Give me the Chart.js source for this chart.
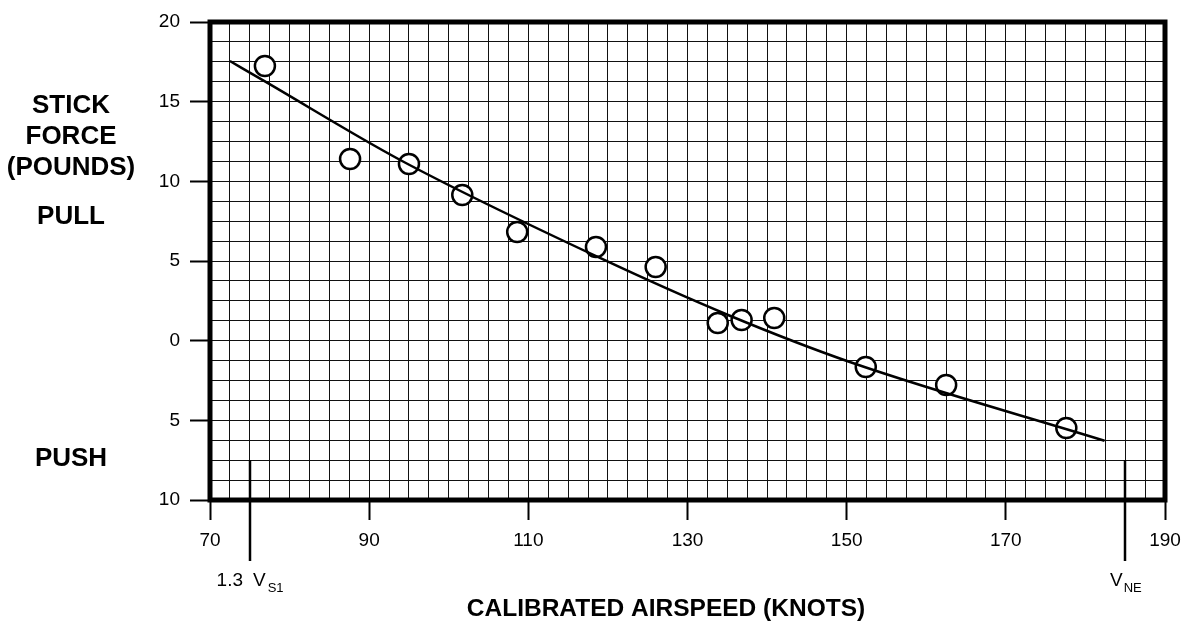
<!DOCTYPE html>
<html><head><meta charset="utf-8">
<script src="https://cdn.jsdelivr.net/npm/chart.js@4.4.1/dist/chart.umd.min.js"></script>
<style>html,body{margin:0;padding:0;background:#fff;overflow:hidden}#wrap{width:1181px;height:622px;position:relative}canvas{display:block}</style>
</head><body><div id="wrap"><canvas id="c" width="1181" height="622" style="width:1181px;height:622px"></canvas></div>
<script>
// Flight test points: calibrated airspeed (knots) vs stick force (pounds, + pull / - push)
const airspeed   = [76.9, 87.6, 95.0, 101.7, 108.6, 118.5, 126.0, 133.8, 136.8, 140.9, 152.4, 162.5, 177.6];
const stickForce = [17.24, 11.40, 11.09, 9.14, 6.82, 5.88, 4.62, 1.11, 1.30, 1.42, -1.65, -2.78, -5.48];
// Faired curve
const fitSpeed = [72.5, 76.9, 93.9, 119.0, 135.1, 150.4, 182.4];
const fitForce = [17.55, 16.27, 11.34, 5.19, 1.61, -1.34, -6.28];
// Reference speeds
const refSpeeds = [75, 185];
const refTop = -7.5;
// Axis ranges / tick labels
const xMin = 70, xMax = 190, xStep = 2.5, xLabelEvery = 20;
const yMin = -10, yMax = 20, yStep = 1.25, yLabelEvery = 5;
const leftLabels = ['STICK', 'FORCE', '(POUNDS)', 'PULL', 'PUSH'];
const xTitle = 'CALIBRATED AIRSPEED (KNOTS)';

const FONT = '"Liberation Sans", Arial, Helvetica, sans-serif';

const toXY = (xs, ys) => xs.map((x, i) => ({x, y: ys[i]}));

const decor = {
  id: 'decor',
  afterDraw(chart) {
    const {ctx, chartArea: a, scales} = chart;
    ctx.save();
    // frame
    ctx.strokeStyle = '#000';
    ctx.lineWidth = 5;
    ctx.strokeRect(a.left, a.top, a.right - a.left, a.bottom - a.top);
    // reference speed lines
    const yTop = scales.y.getPixelForValue(refTop);
    ctx.lineWidth = 2.5;
    const px = refSpeeds.map(v => Math.round(scales.x.getPixelForValue(v)));
    px.forEach(p => {
      ctx.beginPath();
      ctx.moveTo(p, yTop);
      ctx.lineTo(p, a.bottom + 61);
      ctx.stroke();
    });
    ctx.fillStyle = '#000';
    // 1.3 Vs1
    const yMain = a.bottom + 81, ySub = a.bottom + 88;
    ctx.textBaseline = 'middle';
    ctx.font = '19px ' + FONT;
    ctx.textAlign = 'right';
    ctx.fillText('1.3', px[0] - 7, yMain);
    ctx.textAlign = 'left';
    ctx.fillText('V', px[0] + 3, yMain);
    let w = ctx.measureText('V').width;
    ctx.font = '13px ' + FONT;
    ctx.fillText('S1', px[0] + 3 + w + 2, ySub);
    // Vne
    ctx.font = '19px ' + FONT;
    ctx.fillText('V', px[1] - 15, yMain);
    ctx.font = '13px ' + FONT;
    ctx.fillText('NE', px[1] - 15 + w + 1, ySub);
    // left labels
    ctx.font = 'bold 26px ' + FONT;
    ctx.textAlign = 'center';
    const ly = [106, 137, 168, 217, 459];
    leftLabels.forEach((t, i) => ctx.fillText(t, 71, ly[i]));
    // bottom title
    ctx.font = 'bold 24.5px ' + FONT;
    ctx.fillText(xTitle, 666, 609);
    ctx.restore();
  }
};

new Chart(document.getElementById('c'), {
  type: 'scatter',
  data: {
    datasets: [
      {
        type: 'line',
        data: toXY(fitSpeed, fitForce),
        borderColor: '#000',
        borderWidth: 2.5,
        pointRadius: 0,
        fill: false,
        cubicInterpolationMode: 'monotone'
      },
      {
        data: toXY(airspeed, stickForce),
        pointStyle: 'circle',
        pointRadius: 10,
        pointBackgroundColor: '#fff',
        pointBorderColor: '#000',
        pointBorderWidth: 2.5
      }
    ]
  },
  plugins: [decor],
  options: {
    responsive: false,
    animation: false,
    devicePixelRatio: 1,
    layout: {padding: {top: 22, right: 16, left: 0, bottom: 0}},
    plugins: {legend: {display: false}, tooltip: {enabled: false}},
    scales: {
      x: {
        type: 'linear', min: xMin, max: xMax,
        afterFit: s => { s.height = 122; s.paddingLeft = 0; s.paddingRight = 0; },
        border: {display: false},
        grid: {
          color: '#111', lineWidth: 1, tickLength: 20, tickWidth: 2,
          tickColor: c => (c.tick && (c.tick.value - xMin) % xLabelEvery === 0) ? '#000' : 'rgba(0,0,0,0)'
        },
        ticks: {
          stepSize: xStep, autoSkip: false, maxRotation: 0, padding: 9,
          color: '#000', font: {family: FONT, size: 19},
          callback: v => ((v - xMin) % xLabelEvery === 0 ? String(v) : '')
        }
      },
      y: {
        type: 'linear', min: yMin, max: yMax,
        afterFit: s => { s.width = 210; s.paddingTop = 0; s.paddingBottom = 0; },
        border: {display: false},
        grid: {
          color: '#111', lineWidth: 1, tickLength: 20, tickWidth: 2,
          tickColor: c => (c.tick && c.tick.value % yLabelEvery === 0) ? '#000' : 'rgba(0,0,0,0)'
        },
        ticks: {
          stepSize: yStep, autoSkip: false, padding: 10,
          color: '#000', font: {family: FONT, size: 19},
          callback: v => (v % yLabelEvery === 0 ? String(Math.abs(v)) : '')
        }
      }
    }
  }
});
</script></body></html>
